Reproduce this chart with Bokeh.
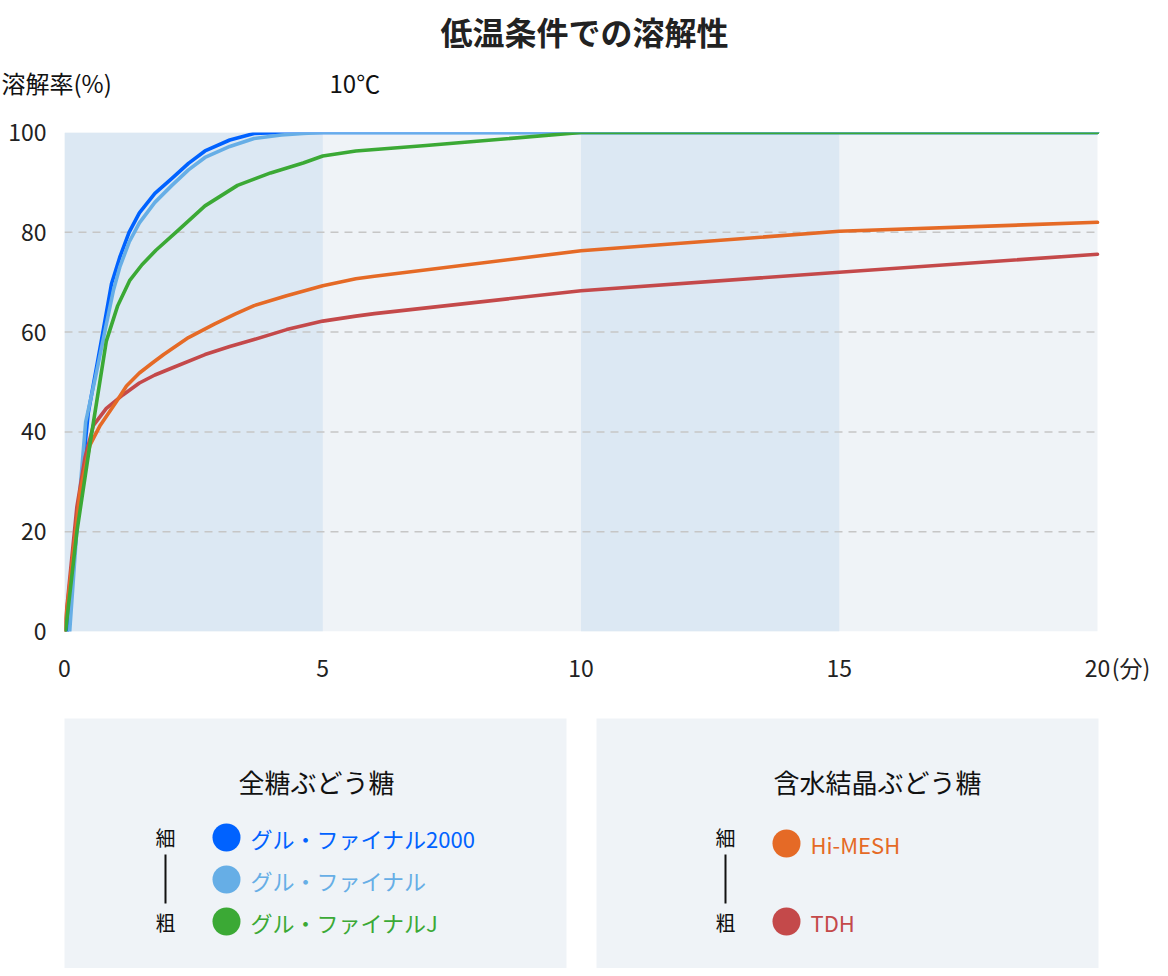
from bokeh.plotting import figure
from bokeh.layouts import column
from bokeh.models import Range1d, FixedTicker
from bokeh.core.properties import value
from bokeh.embed import file_html
from bokeh.resources import INLINE

FONT = "Noto Sans CJK JP"

# ---------------- data ----------------
title_text = "低温条件での溶解性"
y_title = "溶解率(%)"
temp_text = "10℃"
x_unit = "(分)"

x_ticks = [0, 5, 10, 15, 20]
y_ticks = [0, 20, 40, 60, 80, 100]
grid_ticks = [20, 40, 60, 80]
band_start = [0, 10]
band_end = [5, 15]

series_names = ["グル・ファイナル2000", "グル・ファイナル", "グル・ファイナルJ", "Hi-MESH", "TDH"]
series_colors = ["#0062FF", "#66AEE6", "#3BA935", "#E56A26", "#C4494A"]

t_gf2000 = [0.05, 0.25, 0.46, 0.7, 0.91, 1.07, 1.25, 1.45, 1.75, 2.08, 2.4, 2.72, 3.2, 3.67, 4.2, 5, 10, 15, 20]
v_gf2000 = [0, 22, 43.8, 57.5, 69.7, 75, 80, 83.9, 87.8, 90.8, 93.8, 96.3, 98.5, 99.8, 100, 100, 100, 100, 100]

t_gf = [0.1, 0.25, 0.41, 0.6, 0.81, 0.95, 1.07, 1.25, 1.45, 1.75, 2.08, 2.4, 2.72, 3.2, 3.67, 4.2, 4.62, 5, 10, 15, 20]
v_gf = [0, 22, 42, 51, 61.6, 68.5, 73, 78, 81.9, 86, 89.4, 92.5, 95, 97.2, 98.8, 99.5, 99.8, 100, 100, 100, 100]

t_gfj = [0.02, 0.24, 0.5, 0.81, 1.03, 1.26, 1.5, 1.77, 2.21, 2.72, 3.35, 3.99, 4.62, 5.0, 5.64, 7, 8.5, 10, 15, 20]
v_gfj = [0, 20, 38, 58.2, 65.3, 70.3, 73.5, 76.4, 80.5, 85.3, 89.4, 91.9, 93.9, 95.3, 96.3, 97.4, 98.7, 100, 100, 100]

t_himesh = [0, 0.3, 0.49, 0.69, 1.0, 1.2, 1.45, 1.7, 1.92, 2.4, 2.9, 3.3, 3.67, 4.3, 5.0, 5.64, 6, 10, 15, 20]
v_himesh = [0, 28, 37.3, 41.3, 46, 49.2, 51.8, 53.8, 55.5, 58.9, 61.6, 63.6, 65.3, 67.3, 69.3, 70.7, 71.2, 76.3, 80.2, 82]

t_tdh = [0, 0.24, 0.4, 0.56, 0.81, 1.13, 1.45, 1.75, 2.08, 2.72, 3.2, 3.67, 4.3, 5.0, 5.64, 6, 10, 15, 20]
v_tdh = [0, 25, 35, 41.3, 44.7, 47.4, 49.8, 51.4, 52.8, 55.5, 57.1, 58.5, 60.5, 62.2, 63.2, 63.7, 68.3, 72, 75.6]

series_t = [t_gf2000, t_gf, t_gfj, t_himesh, t_tdh]
series_v = [v_gf2000, v_gf, v_gfj, v_himesh, v_tdh]

legend_titles = ["全糖ぶどう糖", "含水結晶ぶどう糖"]
legend_groups = [[0, 1, 2], [3, 4]]
fine_label = "細"
coarse_label = "粗"

W = 1160
X_END = 21.2        # frame extends a little past 20 so the unit label can sit beside "20"
UNIT_POS = 20.65    # position of the "(分)" unit label on the x axis


def panel(height, y0, y1):
    f = figure(width=W, height=height, x_range=Range1d(0, W), y_range=Range1d(y1, y0),
               output_backend="svg", toolbar_location=None, min_border=0,
               frame_align=False)
    f.axis.visible = False
    f.grid.visible = False
    f.outline_line_color = None
    f.background_fill_color = "white"
    return f


# ---------------- header (page coordinates) ----------------
top = panel(110, 0, 110)
top.text(x=[584], y=[30], text=[title_text], text_font=value(FONT), text_font_size="32px",
         text_font_style="bold", text_color="#222222", text_align="center", text_baseline="middle")
top.text(x=[1], y=[82], text=[y_title], text_font=value(FONT), text_font_size="24px",
         text_color="#111111", text_align="left", text_baseline="middle")
top.text(x=[329], y=[82], text=[temp_text], text_font=value(FONT), text_font_size="24px",
         text_color="#111111", text_align="left", text_baseline="middle")

# ---------------- main chart ----------------
p = figure(width=W, height=590, x_range=Range1d(0, X_END), y_range=Range1d(0, 100),
           output_backend="svg", toolbar_location=None,
           min_border_left=64, min_border_right=1, min_border_top=22, min_border_bottom=69)
p.outline_line_color = None
p.background_fill_color = "white"
p.border_fill_color = "white"

x0, x1 = x_ticks[0], x_ticks[-1]
y0, y1 = y_ticks[0], y_ticks[-1]
bg = p.quad(left=[x0], right=[x1], bottom=[y0], top=[y1], fill_color="#EFF3F7", line_color=None)
bg.level = "image"
bands = p.quad(left=band_start, right=band_end, bottom=y0, top=y1,
               fill_color="#DCE8F3", line_color=None)
bands.level = "image"

p.grid.visible = False
p.segment(x0=[x0] * len(grid_ticks), y0=grid_ticks, x1=[x1] * len(grid_ticks), y1=grid_ticks,
          line_color="#C6C6C6", line_dash="8 6", line_width=1.5)

for ax in (p.xaxis[0], p.yaxis[0]):
    ax.axis_line_color = None
    ax.major_tick_line_color = None
    ax.minor_tick_line_color = None
    ax.major_tick_out = 0
    ax.major_tick_in = 0
    ax.minor_tick_out = 0
    ax.minor_tick_in = 0
    ax.major_label_text_font = FONT
    ax.major_label_text_font_size = "23px"
    ax.major_label_text_color = "#222222"

p.xaxis.ticker = FixedTicker(ticks=x_ticks + [UNIT_POS])
p.xaxis.major_label_overrides = {UNIT_POS: x_unit}
p.yaxis.ticker = FixedTicker(ticks=y_ticks)
p.xaxis.major_label_standoff = 18
p.yaxis.major_label_standoff = 18

draw_order = [0, 1, 4, 3, 2]
for i in draw_order:
    p.line(series_t[i], series_v[i], line_color=series_colors[i], line_width=3.6,
           line_join="round", line_cap="round")

# ---------------- legend panels (page coordinates) ----------------
leg = panel(268, 700, 968)

box_left = [64, 596]
box_right = [566, 1098]
leg.quad(left=box_left, right=box_right, top=[718, 718], bottom=[990, 990],
         fill_color="#EFF3F7", line_color=None)

title_x = [316, 877]
scale_x = [165, 725]
dot_x = [226, 786]
item_y = [[837, 879, 921], [843, 921]]

for g in range(2):
    leg.text(x=[title_x[g]], y=[781], text=[legend_titles[g]], text_font=value(FONT),
             text_font_size="26px", text_color="#111111", text_align="center",
             text_baseline="middle")
    leg.text(x=[scale_x[g], scale_x[g]], y=[837, 922], text=[fine_label, coarse_label],
             text_font=value(FONT), text_font_size="20px", text_color="#111111",
             text_align="center", text_baseline="middle")
    leg.segment(x0=[scale_x[g]], y0=[854], x1=[scale_x[g]], y1=[903],
                line_color="#111111", line_width=2)
    idx = legend_groups[g]
    ys = item_y[g]
    cols = [series_colors[i] for i in idx]
    leg.scatter(x=[dot_x[g]] * len(idx), y=ys, size=28, fill_color=cols, line_color=None)
    leg.text(x=[dot_x[g] + 24] * len(idx), y=ys, text=[series_names[i] for i in idx],
             text_color=cols, text_font=value(FONT), text_font_size="22px",
             text_align="left", text_baseline="middle")

layout = column(top, p, leg, spacing=0)
open("out.html", "w").write(file_html(layout, INLINE))
